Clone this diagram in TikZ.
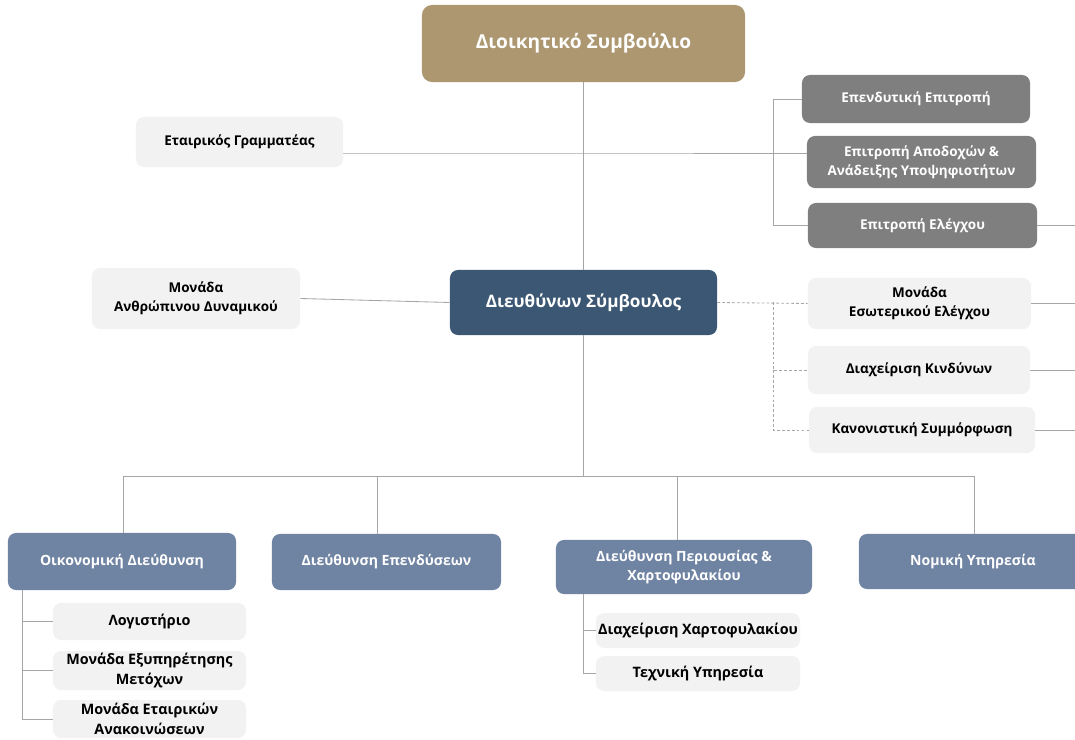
\documentclass[tikz,border=0pt]{standalone}
\usepackage{fontspec}
\setmainfont{Open Sans}
\definecolor{boardgold}{HTML}{AC9770}
\definecolor{ceoblue}{HTML}{3B5773}
\definecolor{commgray}{HTML}{7F7F7F}
\definecolor{unitgray}{HTML}{F2F2F2}
\definecolor{deptblue}{HTML}{6F83A2}
\definecolor{linegray}{HTML}{A6A6A6}
\begin{document}
\begin{tikzpicture}[x=0.025cm, y=-0.025cm, font=\bfseries\fontsize{9.6}{13.5}\selectfont,
	box/.style={rounded corners=0.2cm, align=center, inner sep=1pt},
	boardbox/.style={box, fill=boardgold, text=white, rounded corners=0.25cm,
		font=\bfseries\fontsize{13.6}{16}\selectfont},
	ceobox/.style={box, fill=ceoblue, text=white,
		font=\bfseries\fontsize{12.2}{15}\selectfont},
	commbox/.style={box, fill=commgray, text=white},
	unitbox/.style={box, fill=unitgray, text=black},
	deptbox/.style={box, fill=deptblue, text=white,
		font=\bfseries\fontsize{10}{14}\selectfont},
	subbox/.style={box, fill=unitgray, text=black,
		font=\bfseries\fontsize{10.2}{14}\selectfont},
	link/.style={draw=linegray, line width=0.6pt},
	dotlink/.style={link, dash pattern=on 2pt off 1.5pt}]
	\useasboundingbox (0,0) rectangle (1075,740);
	\clip (0,0) rectangle (1075,740);
	%top
	\node[boardbox, minimum width=8.075cm, minimum height=1.925cm] (board) at (583.5,43.5) {Διοικητικό Συμβούλιο};
	\node[unitbox, minimum width=5.175cm, minimum height=1.25cm] (sec) at (239.5,142) {Εταιρικός Γραμματέας};
	%committees
	\node[commbox, minimum width=5.7cm, minimum height=1.2cm] (inv) at (916,99) {Επενδυτική Επιτροπή};
	\node[commbox, minimum width=5.725cm, minimum height=1.3cm] (rem) at (921.5,162) {Επιτροπή Αποδοχών \&\\Ανάδειξης Υποψηφιοτήτων};
	\node[commbox, minimum width=5.725cm, minimum height=1.125cm] (aud) at (922.5,225.5) {Επιτροπή Ελέγχου};
	%ceo
	\node[ceobox, minimum width=6.675cm, minimum height=1.625cm] (ceo) at (583.5,302.5) {Διευθύνων Σύμβουλος};
	\node[unitbox, minimum width=5.2cm, minimum height=1.525cm] (hr) at (196,298.5) {Μονάδα\\Ανθρώπινου Δυναμικού};
	\node[unitbox, minimum width=5.575cm, minimum height=1.275cm] (ia) at (919.5,303.5) {Μονάδα\\Εσωτερικού Ελέγχου};
	\node[unitbox, minimum width=5.55cm, minimum height=1.2cm] (risk) at (919,370) {Διαχείριση Κινδύνων};
	\node[unitbox, minimum width=5.65cm, minimum height=1.15cm] (comp) at (922,430) {Κανονιστική Συμμόρφωση};
	%departments
	\node[deptbox, minimum width=5.7cm, minimum height=1.425cm] (fin) at (122,561.5) {Οικονομική Διεύθυνση};
	\node[deptbox, minimum width=5.725cm, minimum height=1.4cm] (invd) at (386.5,562) {Διεύθυνση Επενδύσεων};
	\node[deptbox, minimum width=6.4cm, minimum height=1.35cm] (prop) at (684,567) {Διεύθυνση Περιουσίας \&\\Χαρτοφυλακίου};
	\node[deptbox, minimum width=5.7cm, minimum height=1.375cm] (legal) at (973,561.5) {Νομική Υπηρεσία};
	%units
	\node[subbox, minimum width=4.825cm, minimum height=0.925cm] (acc) at (149.5,621.5) {Λογιστήριο};
	\node[subbox, minimum width=4.825cm, minimum height=0.975cm] (sh) at (149.5,670.5) {Μονάδα Εξυπηρέτησης\\Μετόχων};
	\node[subbox, minimum width=4.825cm, minimum height=0.95cm] (ann) at (149.5,719) {Μονάδα Εταιρικών\\Ανακοινώσεων};
	\node[subbox, minimum width=5.1cm, minimum height=0.875cm] (pm) at (698,630.5) {Διαχείριση Χαρτοφυλακίου};
	\node[subbox, minimum width=5.1cm, minimum height=0.875cm] (tech) at (698,673.5) {Τεχνική Υπηρεσία};
	%helper points
	\coordinate (jb) at (583,153);
	\coordinate (cb) at (773,0);
	\coordinate (edge) at (1075,0);
	\coordinate (dfin) at (123,476);
	\coordinate (dinvd) at (377,476);
	\coordinate (dprop) at (677,476);
	\coordinate (dlegal) at (974,476);
	\coordinate (fv) at (22,0);
	\coordinate (pv) at (583,0);
	%lines
	\draw[link] (board.south) -- (ceo.north);
	\draw[link] (sec.east |- jb) -- (jb) -- (jb -| rem.west);
	\draw[link] (inv.west) -| (cb |- jb) |- (aud.west);
	\draw[link] (hr.east) -- (ceo.west);
	\foreach \n in {aud,ia,risk,comp}
	\draw[link] (\n.east) -- (\n.east -| edge);
	\draw[dotlink] (ceo.east) -- (ia.west);
	\draw[dotlink] (cb |- ceo.east) |- (risk.west);
	\draw[dotlink] (cb |- risk.west) |- (comp.west);
	\draw[link] (ceo.south) -- (ceo.south |- dfin);
	\draw[link] (dfin) -- (dlegal);
	\foreach \d/\n in {dfin/fin,dinvd/invd,dprop/prop,dlegal/legal}
	\draw[link] (\d) -- (\d |- \n.north);
	\draw[link] (fin.south -| fv) |- (ann.west);
	\foreach \n in {acc,sh}
	\draw[link] (fv |- \n.west) -- (\n.west);
	\draw[link] (prop.south -| pv) |- (tech.west);
	\draw[link] (pv |- pm.west) -- (pm.west);
\end{tikzpicture}
\end{document}
